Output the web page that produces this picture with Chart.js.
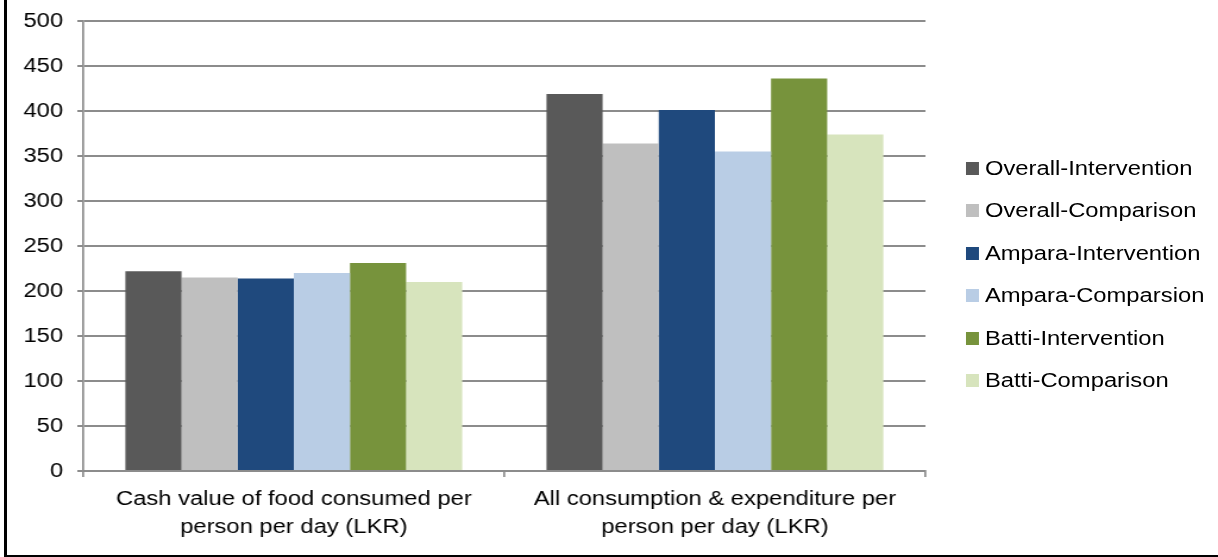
<!DOCTYPE html>
<html>
<head>
<meta charset="utf-8">
<script src="https://cdn.jsdelivr.net/npm/chart.js@4"></script>
<style>
  html, body { margin: 0; padding: 0; background: #fff; }
  #page { position: relative; width: 1218px; height: 557px; overflow: hidden; }
  /* source image is stretched horizontally, so draw narrow and scale */
  #wrap { position: absolute; left: 0; top: 0; width: 1024px; height: 557px;
          transform: scaleX(1.1895); transform-origin: 0 0; }
  #chart { position: absolute; left: 0; top: 0; }
  .leg { position: absolute; left: 812px; height: 28px; display: flex; align-items: center;
         font: 20px "Liberation Sans", Arial, sans-serif; color: #000; white-space: nowrap; }
  .leg span.box { display: inline-block; width: 11px; height: 13px; margin-right: 5px; }
  .frame { position: absolute; background: #000; }
</style>
</head>
<body>
<div id="page">
  <div id="wrap">
    <canvas id="chart" width="1024" height="557"></canvas>
    <div id="legend"></div>
  </div>
  <div class="frame" style="left:4px;top:0;width:3px;height:557px"></div>
  <div class="frame" style="left:4px;top:555px;width:1214px;height:2px"></div>
</div>
<script>
const categories = [
  ['Cash value of food consumed per', 'person per day (LKR)'],
  ['All consumption & expenditure per', 'person per day (LKR)']
];
const seriesNames = ['Overall-Intervention', 'Overall-Comparison', 'Ampara-Intervention',
  'Ampara-Comparsion', 'Batti-Intervention', 'Batti-Comparison'];
const overallIntervention = [222, 419];
const overallComparison = [215, 364];
const amparaIntervention = [214, 401];
const amparaComparison = [220, 355];
const battiIntervention = [231, 436];
const battiComparison = [210, 374];
const colors = ['#595959', '#bfbfbf', '#1f497d', '#b9cde5', '#77933c', '#d7e4bd'];

const allSeries = [overallIntervention, overallComparison, amparaIntervention,
  amparaComparison, battiIntervention, battiComparison];

const font = { family: '"Liberation Sans", Arial, sans-serif', size: 20, lineHeight: 1.4 };
// y labels are single line, small line height keeps the top label from adding extra padding
const yFont = { family: '"Liberation Sans", Arial, sans-serif', size: 20, lineHeight: 0.8 };

const ctx = document.getElementById('chart');

new Chart(ctx, {
  type: 'bar',
  data: {
    labels: categories,
    datasets: allSeries.map((d, i) => ({
      label: seriesNames[i],
      data: d,
      backgroundColor: colors[i],
      borderWidth: 0,
      categoryPercentage: 0.8,
      barPercentage: 1.0
    }))
  },
  options: {
    responsive: false,
    animation: false,
    devicePixelRatio: 1,
    layout: { padding: { left: 0, right: 246, top: 21, bottom: 0 } },
    plugins: { legend: { display: false }, tooltip: { enabled: false } },
    scales: {
      x: {
        grid: { display: true, drawOnChartArea: false, offset: true, tickLength: 6, color: '#8c8c8c', lineWidth: 1.7 },
        border: { color: '#8c8c8c', width: 2 },
        ticks: { color: '#000', font: font, padding: 8, maxRotation: 0 },
        afterFit: (s) => { s.height = 86; }
      },
      y: {
        min: 0,
        max: 500,
        ticks: { stepSize: 50, color: '#000', font: yFont, padding: 12 },
        grid: { color: '#8c8c8c', lineWidth: 2, tickLength: 5 },
        border: { color: '#8c8c8c', width: 1.7 },
        afterFit: (s) => { s.width = 70; }
      }
    }
  }
});

// legend on the right
const legend = document.getElementById('legend');
const legendTop = 168;
seriesNames.forEach((name, i) => {
  const el = document.createElement('div');
  el.className = 'leg';
  el.style.top = (legendTop + i * 42.5 - 14) + 'px';
  el.innerHTML = '<span class="box" style="background:' + colors[i] + '"></span>' + name;
  legend.appendChild(el);
});
</script>
</body>
</html>
